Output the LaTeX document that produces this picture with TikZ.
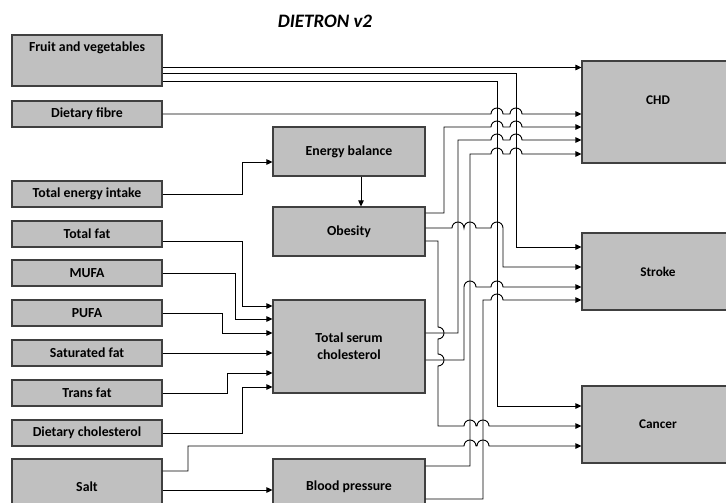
\documentclass[tikz,border=0pt]{standalone}
\usepackage{fontspec}
\setmainfont{Carlito}
\usetikzlibrary{arrows.meta}
\definecolor{boxfill}{RGB}{192,192,192}
\definecolor{boxline}{RGB}{64,64,64}
\begin{document}
\begin{tikzpicture}[x=1pt,y=-1pt,
  box/.style={draw=boxline,fill=boxfill,line width=1.1pt,inner sep=0pt,align=center,
    font=\bfseries\fontsize{13.8}{17}\selectfont},
  lbox/.style={box,minimum width=150pt,minimum height=26pt},
  mbox/.style={box,minimum width=152pt},
  rbox/.style={box,minimum width=152pt,font=\bfseries\fontsize{13.3}{16}\selectfont},
  lbl/.style={inner sep=0pt,font=\bfseries\fontsize{13.8}{17}\selectfont},
  conn/.style={line width=0.9pt,draw=black},
  arr/.style={conn,-{Triangle[length=6pt,width=5.5pt]}}]
\path[use as bounding box] (0,0) rectangle (726,503);
\clip (0,0) rectangle (726,503);

% title
\node[inner sep=0pt,font=\bfseries\itshape\fontsize{19}{22}\selectfont] (title) at (325,21) {DIETRON v2};

% left boxes
\node[lbox,minimum height=51pt] (fruit) at (87,60.5) {};
\node[lbl] (fruittxt) at (87,48) {Fruit and vegetables};
\node[lbox] (fibre) at (87,114) {Dietary fibre};
\node[lbox] (energyin) at (87,194) {Total energy intake};
\node[lbox] (totfat) at (87,234) {Total fat};
\node[lbox] (mufa) at (87,273) {MUFA};
\node[lbox] (pufa) at (87,313) {PUFA};
\node[lbox] (sat) at (87,353) {Saturated fat};
\node[lbox] (trans) at (87,393) {Trans fat};
\node[lbox] (dchol) at (87,433) {Dietary cholesterol};
\node[lbox,minimum height=56pt] (salt) at (87,487) {Salt};

% middle boxes
\node[mbox,minimum height=49pt] (ebal) at (349,151.5) {Energy balance};
\node[mbox,minimum height=49pt] (obes) at (349,231.5) {Obesity};
\node[mbox,minimum height=93pt] (tsc) at (349,346.5) {Total serum\\cholesterol};
\node[mbox,minimum height=56pt] (bp) at (349,487) {Blood pressure};

% right boxes
\node[rbox,minimum height=102pt] (chd) at (658,112) {};
\node[lbl,font=\bfseries\fontsize{13.3}{16}\selectfont] (chdtxt) at (658,100) {CHD};
\node[rbox,minimum height=77pt] (stroke) at (658,271.5) {Stroke};
\node[rbox,minimum height=77pt] (cancer) at (658,424.5) {Cancer};

% energy
\draw[arr] (energyin.east) -- (242,194) -- (242,162) -- (ebal.west |- 0,162);
\draw[arr] (ebal.south -| 361,0) -- (obes.north -| 361,0);

% fats to total serum cholesterol
\draw[arr] (totfat.east |- 0,241) -- (242,241) -- (242,306) -- (tsc.west |- 0,306);
\draw[arr] (mufa.east) -- (235,273) -- (235,319) -- (tsc.west |- 0,319);
\draw[arr] (pufa.east) -- (222,313) -- (222,333) -- (tsc.west |- 0,333);
\draw[arr] (sat.east) -- (tsc.west |- sat.east);
\draw[arr] (trans.east) -- (227,393) -- (227,373) -- (tsc.west |- 0,373);
\draw[arr] (dchol.east) -- (242,433) -- (242,387) -- (tsc.west |- 0,387);

% salt
\draw[arr] (salt.east |- 0,471) -- (188,471) -- (188,446) -- (464,446)
  arc[start angle=180,end angle=0,radius=6pt] -- (477,446)
  arc[start angle=180,end angle=0,radius=6pt] -- (cancer.west |- 0,446);
\draw[arr] (salt.east |- 0,490) -- (bp.west |- 0,490);

% fruit and vegetables
\draw[arr] (fruit.east |- 0,67.5) -- (chd.west |- 0,67.5);
\draw[arr] (fruit.east |- 0,73) -- (516,73) -- (516,247) -- (stroke.west |- 0,247);
\draw[arr] (fruit.east |- 0,81) -- (497,81) -- (497,406) -- (cancer.west |- 0,406);

% dietary fibre
\draw[arr] (fibre.east) -- (491,114)
  arc[start angle=180,end angle=0,radius=6pt] -- (510,114)
  arc[start angle=180,end angle=0,radius=6pt] -- (chd.west |- 0,114);

% obesity
\draw[arr] (obes.east |- 0,213) -- (444,213) -- (444,127) -- (491,127)
  arc[start angle=180,end angle=0,radius=6pt] -- (510,127)
  arc[start angle=180,end angle=0,radius=6pt] -- (chd.west |- 0,127);
\draw[arr] (obes.east |- 0,228) -- (452,228)
  arc[start angle=180,end angle=0,radius=6pt]
  arc[start angle=180,end angle=0,radius=6pt] -- (491,228)
  arc[start angle=180,end angle=0,radius=6pt] -- (503,267) -- (stroke.west |- 0,267);
\draw[arr] (obes.east |- 0,241) -- (438,241) -- (438,327)
  arc[start angle=90,end angle=-90,radius=6pt] -- (438,354)
  arc[start angle=90,end angle=-90,radius=6pt] -- (438,426) -- (464,426)
  arc[start angle=180,end angle=0,radius=6pt] -- (477,426)
  arc[start angle=180,end angle=0,radius=6pt] -- (cancer.west |- 0,426);

% total serum cholesterol
\draw[arr] (tsc.east |- 0,333) -- (458,333) -- (458,140) -- (491,140)
  arc[start angle=180,end angle=0,radius=6pt] -- (510,140)
  arc[start angle=180,end angle=0,radius=6pt] -- (chd.west |- 0,140);
\draw[arr] (tsc.east |- 0,360) -- (464,360) -- (464,287)
  arc[start angle=180,end angle=0,radius=6pt] -- (491,287)
  arc[start angle=180,end angle=0,radius=6pt] -- (stroke.west |- 0,287);

% blood pressure
\draw[arr] (bp.east |- 0,466) -- (470,466) -- (470,154) -- (491,154)
  arc[start angle=180,end angle=0,radius=6pt] -- (510,154)
  arc[start angle=180,end angle=0,radius=6pt] -- (chd.west |- 0,154);
\draw[arr] (bp.east |- 0,499) -- (483,499) -- (483,300) -- (491,300)
  arc[start angle=180,end angle=0,radius=6pt] -- (stroke.west |- 0,300);
\end{tikzpicture}
\end{document}
